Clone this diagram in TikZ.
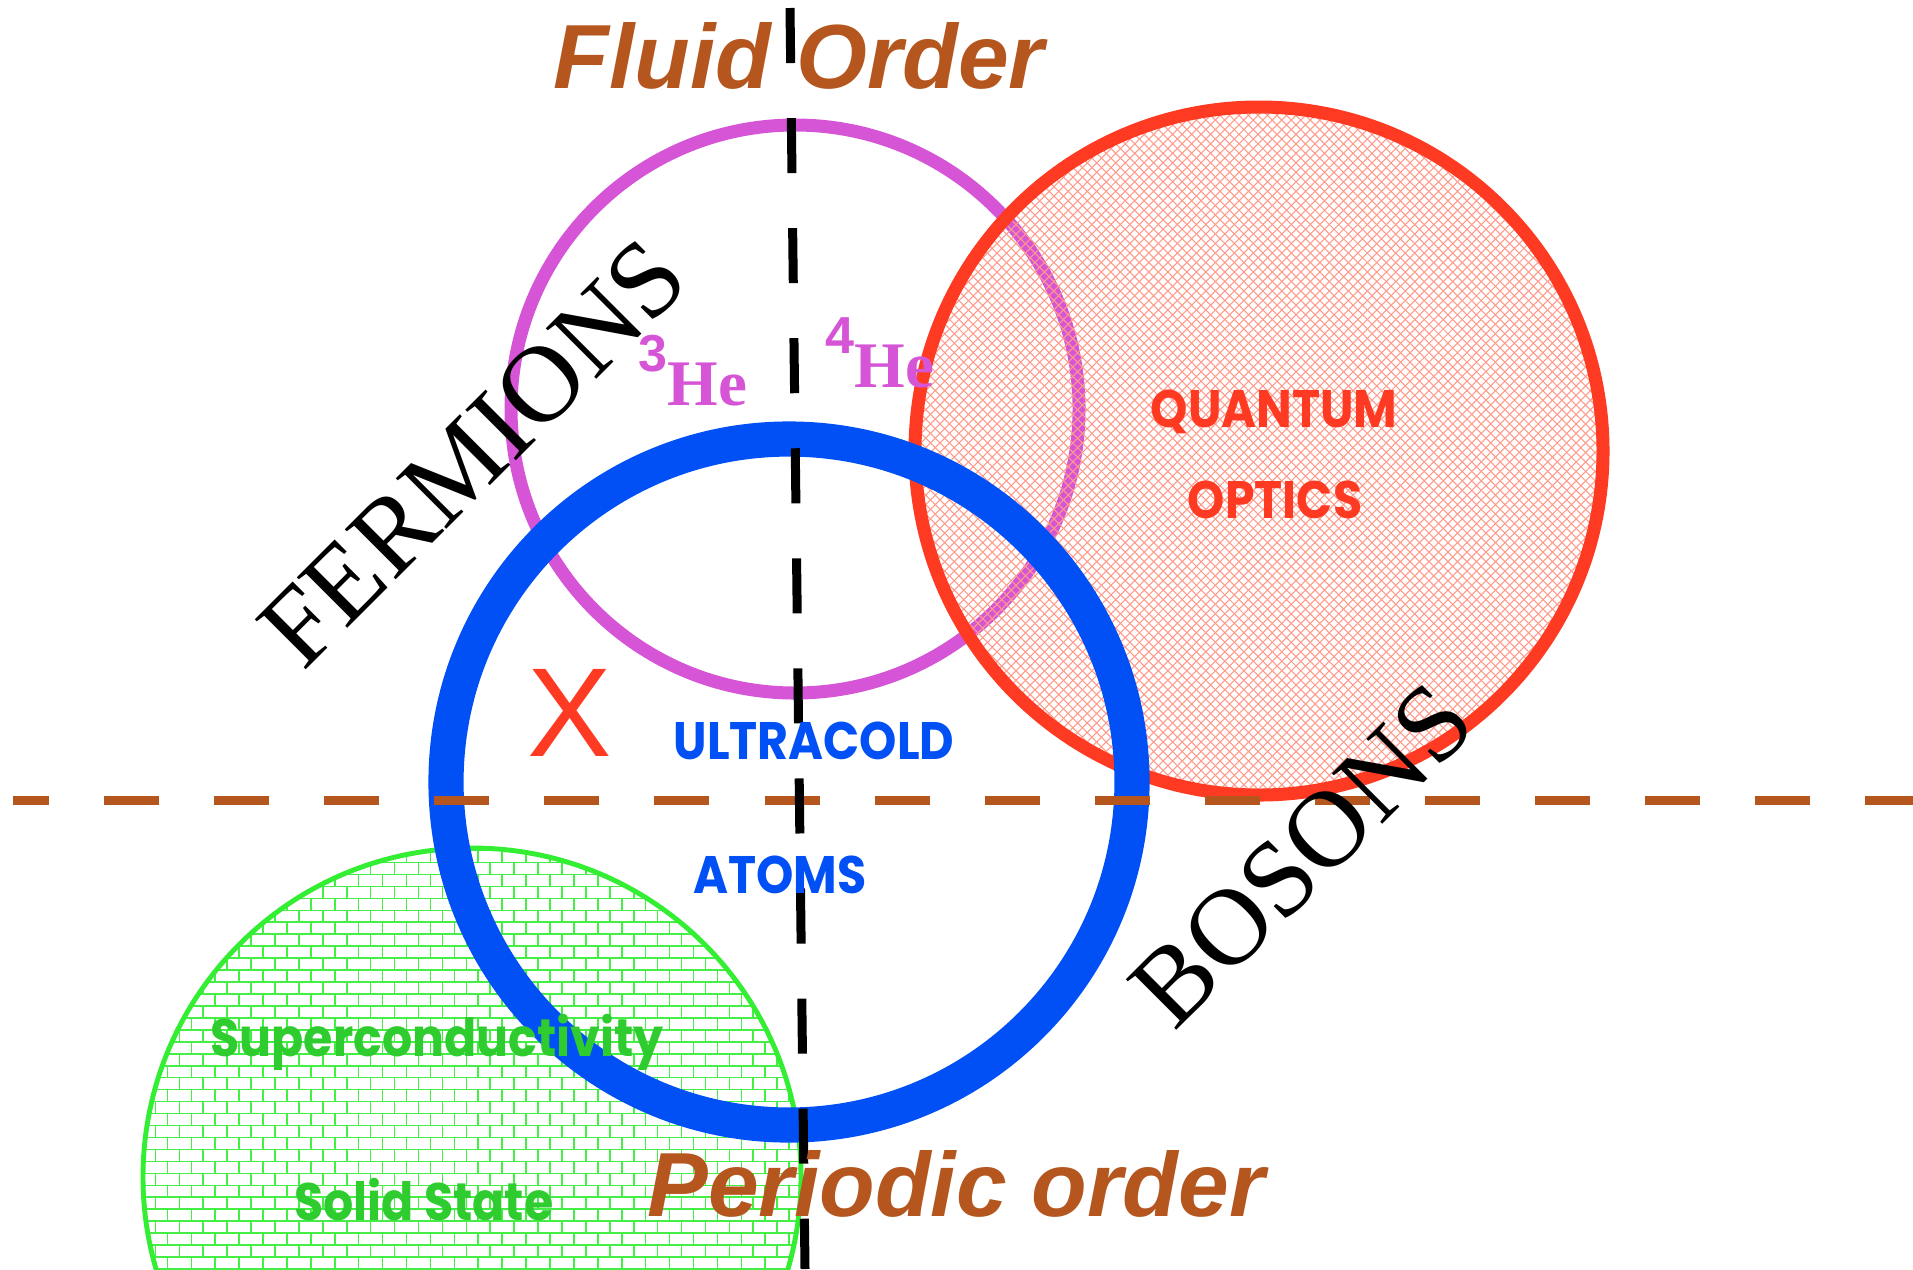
\documentclass[tikz,border=0pt]{standalone}
\usepackage{fontspec}
\setmainfont{Liberation Serif}
\setsansfont{Liberation Sans}
\newfontfamily\geofont{Poppins}[FakeStretch=0.9]
\usetikzlibrary{patterns}
\definecolor{ordbrown}{HTML}{B4561E}
\definecolor{heliummag}{HTML}{D555D6}
\definecolor{opticsred}{HTML}{FF3A22}
\definecolor{meshred}{HTML}{FF9A8A}
\definecolor{atomblue}{HTML}{0050F5}
\definecolor{solidline}{HTML}{33EE33}
\definecolor{solidtext}{HTML}{2ECC2E}
\definecolor{brickgreen}{HTML}{44EE44}
\newcommand{\massno}[1]{\raisebox{0.33cm}{\sffamily\bfseries\fontsize{14.8}{17}\selectfont #1}}

% diagonal mesh for the optics disc
\pgfdeclarepatternformonly{opticsmesh}{\pgfqpoint{-0.5pt}{-0.5pt}}{\pgfqpoint{3.2pt}{3.2pt}}{\pgfqpoint{2.7pt}{2.7pt}}{%
  \pgfsetlinewidth{0.3pt}%
  \pgfpathmoveto{\pgfqpoint{0pt}{0pt}}\pgfpathlineto{\pgfqpoint{2.7pt}{2.7pt}}%
  \pgfpathmoveto{\pgfqpoint{0pt}{2.7pt}}\pgfpathlineto{\pgfqpoint{2.7pt}{0pt}}%
  \pgfusepath{stroke}}
% brick wall for the solid state disc
\pgfdeclarepatternformonly{brickwall}{\pgfqpoint{-0.3pt}{-0.3pt}}{\pgfqpoint{7.1pt}{7.1pt}}{\pgfqpoint{6.8pt}{6.8pt}}{%
  \pgfsetlinewidth{0.45pt}%
  \pgfpathmoveto{\pgfqpoint{0pt}{0pt}}\pgfpathlineto{\pgfqpoint{6.8pt}{0pt}}%
  \pgfpathmoveto{\pgfqpoint{0pt}{3.4pt}}\pgfpathlineto{\pgfqpoint{6.8pt}{3.4pt}}%
  \pgfpathmoveto{\pgfqpoint{0pt}{0pt}}\pgfpathlineto{\pgfqpoint{0pt}{3.4pt}}%
  \pgfpathmoveto{\pgfqpoint{3.4pt}{3.4pt}}\pgfpathlineto{\pgfqpoint{3.4pt}{6.8pt}}%
  \pgfusepath{stroke}}

\begin{document}
\begin{tikzpicture}[
  x=0.01cm, y=-0.01cm,
  order/.style={font=\sffamily\bfseries\itshape\fontsize{25.9}{30}\selectfont,
                text=ordbrown, inner sep=0pt, anchor=base},
  spin/.style={font=\rmfamily\fontsize{31}{34}\selectfont, rotate=45,
               inner sep=0pt, anchor=base},
  field/.style={font=\geofont\bfseries\fontsize{15}{18}\selectfont,
                inner sep=0pt, anchor=base},
  helium/.style={font=\rmfamily\bfseries\fontsize{18.5}{22}\selectfont,
                 text=heliummag, inner sep=0pt, anchor=base west},
  axisline/.style={line width=2.56pt, dash pattern=on 15.65pt off 15.65pt},
]
\useasboundingbox (0,0) rectangle (1913,1269);

% the four fields
\fill[pattern=brickwall, pattern color=brickgreen] (472,1177) circle (329);
\draw[solidline, line width=1.4pt] (472,1177) circle (329);
\draw[heliummag, line width=3.7pt] (795,409) circle (284);
\fill[pattern=opticsmesh, pattern color=meshred] (1259,451) circle (344);
\draw[opticsred, line width=3.7pt] (1259,451) circle (344);
\draw[atomblue, line width=10pt] (789,782) circle (343);

% the two dividing lines
\draw[axisline, ordbrown, dash phase=5.4pt] (13,800) -- (1913,800);
\draw[axisline, black] (790,8) -- (805,1269);

\node[order] (fluid) at (799,88) {Fluid Order};
\node[order] (periodic) at (956,1216) {Periodic order};

\node[spin] (fermions) at (498,478) {FERMIONS};
\node[spin] (bosons) at (1327,880) {BOSONS};

\node[helium] (he3) at (638,405) {\massno{3}He};
\node[helium] (he4) at (825,387) {\massno{4}He};

\node[field, text=opticsred] (quantum) at (1274,427) {QUANTUM};
\node[field, text=opticsred] (optics) at (1275,518) {OPTICS};
\node[field, text=atomblue] (ultracold) at (814,759) {ULTRACOLD};
\node[field, text=atomblue] (atoms) at (780,893) {ATOMS};
\node[field, text=solidtext] (supercond) at (437,1056) {Superconductivity};
\node[field, text=solidtext] (solid) at (424,1220) {Solid State};

\node[font=\sffamily\fontsize{36}{40}\selectfont, text=opticsred, inner sep=0pt,
      anchor=base] (cross) at (570,756) {X};
\end{tikzpicture}
\end{document}
